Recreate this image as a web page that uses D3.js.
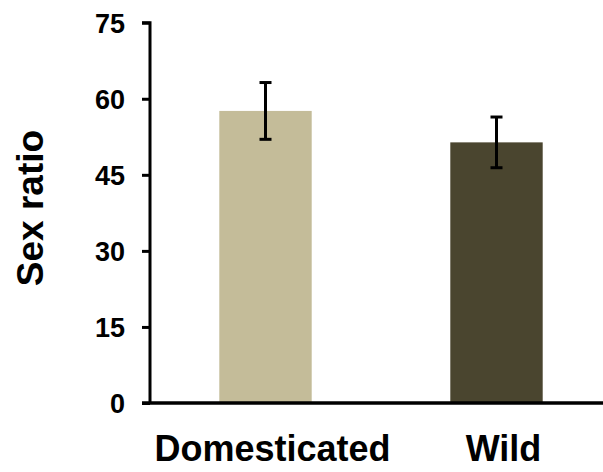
<!DOCTYPE html>
<html>
<head>
<meta charset="utf-8">
<script src="https://cdn.jsdelivr.net/npm/d3@7"></script>
<style>
  html, body { margin: 0; padding: 0; background: #fff; }
  svg { display: block; }
  text { font-family: "Liberation Sans", Arial, sans-serif; font-weight: bold; fill: #000; }
</style>
</head>
<body>
<script>
const categories = ["Domesticated", "Wild"];
const means = [57.6, 51.4];
const errors = [5.6, 5.0];
const colors = ["#C4BC99", "#4A452F"];
const yTicks = [0, 15, 30, 45, 60, 75];
const yLabel = "Sex ratio";

const W = 603, H = 472;
const svg = d3.select("body").append("svg").attr("width", W).attr("height", H);

const y = d3.scaleLinear().domain([0, 75]).range([403, 22.7]);
const x = d3.scaleBand().domain(categories).range([150, 612]).paddingInner(0.6).paddingOuter(0.3);

// bars
svg.selectAll("rect.bar").data(categories).join("rect")
  .attr("class", "bar")
  .attr("x", d => x(d))
  .attr("width", x.bandwidth())
  .attr("y", (d, i) => y(means[i]))
  .attr("height", (d, i) => y(0) - y(means[i]))
  .attr("fill", (d, i) => colors[i]);

// error bars
const eb = svg.selectAll("g.err").data(categories).join("g").attr("class", "err")
  .attr("transform", d => `translate(${x(d) + x.bandwidth() / 2},0)`);
eb.append("line").attr("x1", 0).attr("x2", 0)
  .attr("y1", (d, i) => y(means[i] + errors[i])).attr("y2", (d, i) => y(means[i] - errors[i]))
  .attr("stroke", "#000").attr("stroke-width", 3);
eb.append("line").attr("x1", -6).attr("x2", 6)
  .attr("y1", (d, i) => y(means[i] + errors[i])).attr("y2", (d, i) => y(means[i] + errors[i]))
  .attr("stroke", "#000").attr("stroke-width", 3);
eb.append("line").attr("x1", -6).attr("x2", 6)
  .attr("y1", (d, i) => y(means[i] - errors[i])).attr("y2", (d, i) => y(means[i] - errors[i]))
  .attr("stroke", "#000").attr("stroke-width", 3);

// y axis
const yAxis = svg.append("g").attr("transform", "translate(150,0)")
  .call(d3.axisLeft(y).tickValues(yTicks).tickSize(8).tickPadding(17).tickFormat(d3.format("d")));
yAxis.select(".domain").attr("stroke-width", 3).attr("d", `M0,${y(0)}V${y(75)}H-8`);
yAxis.selectAll(".tick line").attr("stroke-width", 3);
yAxis.selectAll(".tick text").style("font-size", "27px").attr("dy", "0.36em");

// x axis
const xAxis = svg.append("g").attr("transform", `translate(0,${y(0)})`)
  .call(d3.axisBottom(x).tickSize(0).tickPadding(32));
xAxis.select(".domain").attr("stroke-width", 3.5).attr("d", `M142,0H${W}`);
xAxis.selectAll(".tick text").style("font-size", "36px").attr("dx", 7);

// y label
svg.append("text")
  .attr("transform", "translate(43,208) rotate(-90)")
  .attr("text-anchor", "middle")
  .style("font-size", "37px")
  .text(yLabel);
</script>
</body>
</html>
